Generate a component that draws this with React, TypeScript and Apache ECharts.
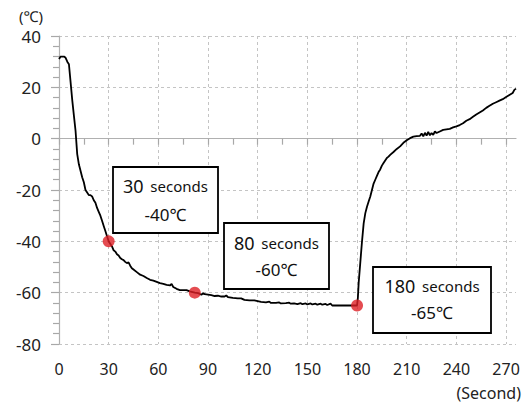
import React, { useEffect, useRef } from "react";
import * as echarts from "echarts";

// time in seconds
const seconds = [
  0, 1, 2, 3, 4, 5, 6, 7, 8, 9, 10, 11, 12, 13, 14, 15, 16, 17, 18, 19, 20,
  21, 22, 23, 24, 25, 26, 27, 28, 29, 30, 31, 32, 33, 34, 35, 36, 37, 38, 39,
  40, 41, 42, 43, 44, 45, 47, 49, 51, 53, 55, 57, 59, 61, 63, 65, 67, 68, 69,
  71, 73, 75, 77, 79, 82, 84, 86, 87, 88, 90, 92, 94, 96, 98, 100, 101, 102,
  105, 108, 110, 112, 115, 118, 120, 122, 125, 127, 128, 131, 133, 134, 137,
  139, 140, 142, 144, 146, 147, 149, 150, 152, 153, 155, 156, 158, 159, 161,
  162, 164, 165, 170, 175, 180, 180.5, 181, 182, 183, 184, 185, 186, 187, 188,
  189, 190, 191, 192, 193, 194, 195, 196, 197, 198, 199, 200, 202, 204, 206,
  208, 210, 212, 214, 216, 218, 219, 220, 221, 222, 223, 224, 225, 226, 227,
  228, 230, 232, 234, 236, 238, 240, 242, 244, 246, 248, 250, 252, 254, 256,
  258, 260, 262, 264, 266, 268, 270, 272, 274, 275, 276,
];

// temperature in ℃
const temps = [
  31, 32, 32, 32, 31.5, 30, 29, 22, 15, 9, 3, -6, -10, -12.5, -15, -17, -20, -21,
  -22, -22, -22.5, -24, -25, -27, -28.5, -30, -32, -34, -36, -38, -40, -41, -42,
  -43.5, -44, -45, -45.5, -46.5, -47, -47.3, -48, -48.5, -48.2, -49.5, -50.5,
  -51, -52, -53, -53.5, -54.3, -55, -55.3, -55.8, -56.3, -56.6, -57, -57.2,
  -56.6, -57.8, -58.5, -59, -59, -59, -59.5, -60, -60.2, -60.8, -60.2, -60.6,
  -60.8, -61, -61.3, -61.2, -61.5, -61.5, -61.1, -61.7, -62, -62.2, -62.2, -62.8,
  -63, -63, -63.3, -63.6, -63.8, -63.5, -64, -64, -63.8, -64.2, -64.1, -63.9,
  -64.3, -64.2, -64.5, -64.1, -64.5, -64.2, -64.6, -64.2, -64.6, -64.3, -64.7,
  -64.3, -64.7, -64.4, -64.8, -64.3, -65, -65, -65, -65, -62, -56, -48, -40,
  -33, -29, -26.5, -24.5, -22.5, -20, -17.5, -16, -14.5, -13, -12, -10.5, -9.5,
  -8.5, -7.5, -7, -6.3, -5.2, -4, -3, -1.6, -0.6, 0.2, 0.8, 1, 1.1, 2, 0.9,
  2.3, 1.2, 2.6, 1.3, 2.2, 1.5, 2.8, 2.2, 2.8, 3.4, 3.6, 3.8, 4.4, 4.8, 5.3, 6,
  7, 7.6, 8.5, 9.4, 10.2, 11, 12, 12.8, 13.6, 14.2, 14.8, 15.4, 16.2, 17, 17.8,
  19, 19.5,
];

// highlighted points
const markSeconds = [30, 82, 180];
const markTemps = [-40, -60, -65];
const markLabels = ["30", "80", "180"];
const markTempLabels = ["-40℃", "-60℃", "-65℃"];

const xTickValues = [0, 15, 30, 45, 60, 75, 90, 105, 120, 135, 150, 165, 180, 195, 210, 225, 240, 255, 270];
const xLabelValues = [0, 30, 60, 90, 120, 150, 180, 210, 240, 270];

const FONT = "'Noto Sans', sans-serif";

const boxes = [
  { x: 113, y: 167, w: 105, h: 66, l1: 186, l2: 214 },
  { x: 224, y: 223, w: 105, h: 66, l1: 243, l2: 269 },
  { x: 373, y: 267, w: 118, h: 66, l1: 286, l2: 312 },
];

export default function App() {
  const ref = useRef<HTMLDivElement>(null);

  useEffect(() => {
    if (!ref.current) return;
    const chart = echarts.init(ref.current, null, { renderer: "svg" });
    const lineData = seconds.map((s, i) => [s, temps[i]]);
    const dotData = markSeconds.map((s, i) => [s, markTemps[i]]);

    const graphics: any[] = [];
    boxes.forEach((b, i) => {
      graphics.push({
        type: "rect",
        shape: { x: b.x, y: b.y, width: b.w, height: b.h },
        style: { fill: "#fff", stroke: "#000", lineWidth: 1.8 },
        z: 100,
      });
      graphics.push({
        type: "text",
        x: b.x + b.w / 2,
        y: b.l1,
        z: 101,
        style: {
          text: `{n|${markLabels[i]}}  {s|seconds}`,
          align: "center",
          verticalAlign: "middle",
          rich: {
            n: { fontSize: 18, fontFamily: FONT, fill: "#111" },
            s: { fontSize: 15, fontFamily: FONT, fill: "#111" },
          },
        },
      });
      graphics.push({
        type: "text",
        x: b.x + b.w / 2,
        y: b.l2,
        z: 101,
        style: {
          text: markTempLabels[i],
          align: "center",
          verticalAlign: "middle",
          fontSize: 17,
          fontFamily: FONT,
          fill: "#111",
        },
      });
    });
    graphics.push({
      type: "text",
      x: 521,
      y: 393,
      style: {
        text: "(Second)",
        align: "right",
        verticalAlign: "middle",
        fontSize: 16,
        fontFamily: FONT,
        fill: "#222",
      },
    });

    chart.setOption({
      animation: false,
      backgroundColor: "#fff",
      grid: { left: 59, right: 14, top: 36, bottom: 61, containLabel: false },
      xAxis: [
        {
          type: "value",
          min: 0,
          max: 276,
          axisLine: { show: true, lineStyle: { color: "#b0b0b0", width: 1.2 } },
          axisTick: {
            show: true,
            length: 6,
            customValues: xTickValues,
            lineStyle: { color: "#a8a8a8", width: 1.2 },
          },
          axisLabel: {
            customValues: xLabelValues,
            fontSize: 16,
            fontFamily: FONT,
            color: "#222",
            margin: 17,
          },
          splitLine: { show: false },
        },
        {
          type: "value",
          min: 0,
          max: 276,
          position: "bottom",
          axisLine: { show: false },
          axisLabel: { show: false },
          axisTick: { show: false, customValues: xLabelValues },
          splitLine: {
            show: true,
            lineStyle: { color: "#c4c4c4", type: [3, 3], width: 1 },
          },
        },
      ],
      yAxis: {
        type: "value",
        min: -80,
        max: 40,
        interval: 20,
        name: "(℃)",
        nameLocation: "end",
        nameGap: 13,
        nameTextStyle: {
          fontSize: 15,
          fontFamily: FONT,
          color: "#222",
          align: "right",
          padding: [0, 16, 0, 0],
        },
        axisLine: { show: true, lineStyle: { color: "#b0b0b0", width: 1.2 } },
        axisTick: { show: true, length: 8, lineStyle: { color: "#a8a8a8", width: 1.2 } },
        minorTick: { show: true, splitNumber: 5, length: 6, lineStyle: { color: "#a8a8a8", width: 1.2 } },
        axisLabel: { fontSize: 17, fontFamily: FONT, color: "#222", margin: 18 },
        splitLine: { show: true, lineStyle: { color: "#c4c4c4", type: [3, 3], width: 1 } },
      },
      series: [
        {
          type: "line",
          data: lineData,
          showSymbol: false,
          symbol: "none",
          lineStyle: { color: "#000", width: 1.8 },
          z: 3,
        },
        {
          type: "scatter",
          data: dotData,
          symbolSize: 12,
          itemStyle: { color: "#dd1f26" },
          z: 5,
        },
      ],
      graphic: graphics,
    });
    return () => chart.dispose();
  }, []);

  return (
    <div
      ref={ref}
      style={{ position: "fixed", left: 0, top: 0, width: 530, height: 405, background: "#fff" }}
    />
  );
}
